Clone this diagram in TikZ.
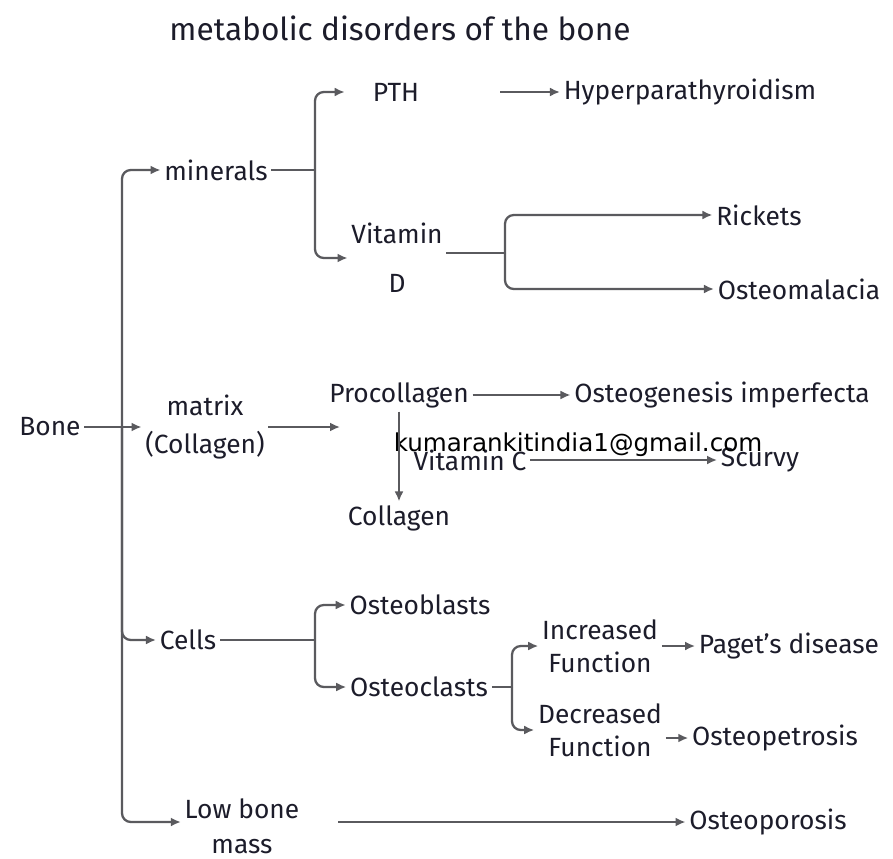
\documentclass[tikz,border=0pt]{standalone}
\usepackage{fontspec}
\setmainfont{Fira Sans}
\newfontfamily\wmfont{DejaVu Sans}
\usetikzlibrary{arrows.meta,positioning}
\definecolor{inkc}{HTML}{1C1C2A}
\definecolor{linec}{HTML}{5A5A5E}
\tikzset{
  lbl/.style={inner sep=2pt, align=center, text=inkc, font=\fontsize{15}{19}\selectfont},
  ttl/.style={lbl, font=\fontsize{18}{21}\selectfont},
  wmark/.style={inner sep=0pt, text=black, font=\wmfont\fontsize{14}{16}\selectfont},
  link/.style={draw=linec, line width=1.3pt},
  arrow/.style={link, -{Latex[length=2mm,width=1.8mm]}},
  elbow/.style={arrow, rounded corners=5pt}
}
\begin{document}
\begin{tikzpicture}[x=0.02cm,y=-0.02cm]
  \useasboundingbox[fill=white] (0,0) rectangle (893,859);
  \node[ttl] (title) at (400,28) {metabolic disorders of the bone};
  % main branch
  \node[lbl] (bone) at (50,427) {Bone};
  \coordinate (spine) at (122,427);
  \node[lbl] (minerals) at (216,170) {minerals};
  \node[lbl] (matrix) at (205,427) {matrix\\[3pt](Collagen)};
  \node[lbl] (cells) at (188,640) {Cells};
  \node[lbl] (lowmass) at (242,826) {Low bone\\[1pt]mass};
  % minerals
  \coordinate (mfork) at (315,170);
  \node[lbl,minimum width=2.04cm] (pth) at (396,92) {PTH};
  \node[lbl] (hyper) at (690,92) {Hyperparathyroidism};
  \node[lbl] (vitd) at (397,258) {Vitamin\\[9pt]D};
  \coordinate (vdfork) at (505,253);
  \node[lbl] (rickets) at (759,215) {Rickets};
  \node[lbl] (osteomal) at (799,289) {Osteomalacia};
  % matrix
  \coordinate (mtip) at (340,427);
  \node[lbl] (procoll) at (399,395) {Procollagen};
  \node[lbl] (oi) at (722,395) {Osteogenesis imperfecta};
  \node[lbl] (collagen) at (399,518) {Collagen};
  \node[lbl] (vitc) at (470,460) {Vitamin C};
  \node[lbl] (scurvy) at (760,460) {Scurvy};
  \node[wmark] (mark) at (578,445) {kumarankitindia1@gmail.com};
  % cells
  \coordinate (cfork) at (315,640);
  \node[lbl] (oblasts) at (420,605) {Osteoblasts};
  \node[lbl] (oclasts) at (419,687) {Osteoclasts};
  \coordinate (ofork) at (512,687);
  \node[lbl] (incf) at (600,646) {Increased\\Function};
  \node[lbl] (decf) at (600,730) {Decreased\\Function};
  \node[lbl] (paget) at (789,646) {Paget's disease};
  \node[lbl] (opetro) at (775,738) {Osteopetrosis};
  \node[lbl] (oporosis) at (768,822) {Osteoporosis};

  \draw[arrow] (bone) -- (matrix);
  \draw[elbow] (spine) |- (minerals.west);
  \draw[elbow] (spine) |- (cells.west);
  \draw[elbow] (spine) |- (lowmass.west |- oporosis.west);
  \draw[link] (minerals.east) -- (mfork);
  \draw[elbow] (mfork) |- (pth.west);
  \draw[elbow] (mfork) |- (vitd.west);
  \draw[arrow,shorten <=30pt] (pth.east) -- (hyper.west);
  \draw[link] (vitd.east |- vdfork) -- (vdfork);
  \draw[elbow] (vdfork) |- (rickets.west);
  \draw[elbow] (vdfork) |- (osteomal.west);
  \draw[arrow] (matrix.east) -- (mtip);
  \draw[arrow] (procoll) -- (oi);
  \draw[arrow] (procoll.south) -- (collagen.north);
  \draw[arrow] (vitc) -- (scurvy);
  \draw[link] (cells.east) -- (cfork);
  \draw[elbow] (cfork) |- (oblasts.west);
  \draw[elbow] (cfork) |- (oclasts.west);
  \draw[link] (oclasts.east) -- (ofork);
  \draw[elbow] (ofork) |- (incf.west);
  \draw[elbow] (ofork) |- (decf.west);
  \draw[arrow] (incf) -- (paget);
  \draw[arrow] (decf.east |- opetro.west) -- (opetro.west);
  \draw[arrow,shorten <=20pt] (lowmass.east |- oporosis.west) -- (oporosis.west);
\end{tikzpicture}
\end{document}
